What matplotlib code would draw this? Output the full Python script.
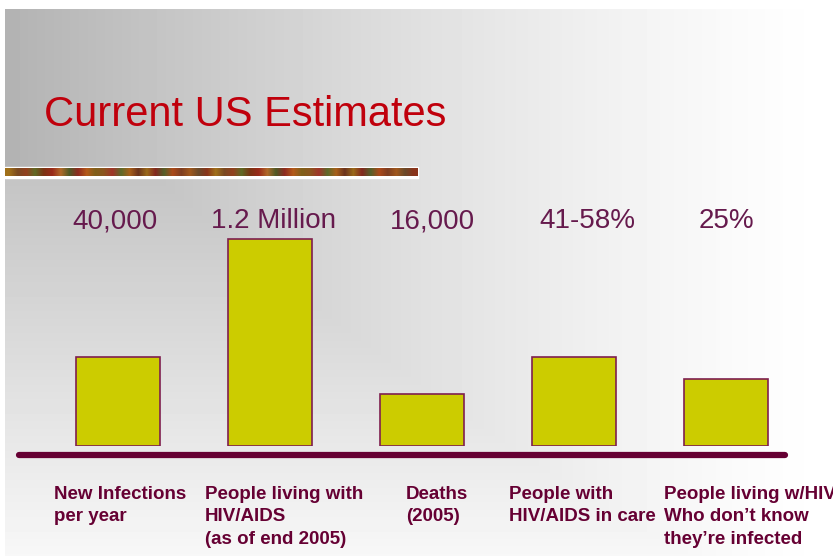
import numpy as np
import matplotlib
matplotlib.use("Agg")
import matplotlib.pyplot as plt
from matplotlib import transforms

plt.rcParams['font.family'] = ['Liberation Sans', 'DejaVu Sans']

# slide content
title = "Current US Estimates"
value_labels = ["40,000", "1.2 Million", "16,000", "41-58%", "25%"]
categories = ["New Infections\nper year",
              "People living with\nHIV/AIDS\n(as of end 2005)",
              "Deaths\n(2005)",
              "People with\nHIV/AIDS in care",
              "People living w/HIV\nWho don\u2019t know\nthey\u2019re infected"]
# bar heights as drawn on the slide (illustrative, relative units)
heights = [1.0, 2.33, 0.58, 1.0, 0.75]

W, H = 833, 556
fig = plt.figure(figsize=(W / 100, H / 100), dpi=100)

# background layer in pixel coordinates
bg = fig.add_axes([0, 0, 1, 1])
bg.set_xlim(0, W)
bg.set_ylim(H, 0)
bg.axis('off')

xs = np.arange(W)[None, :] + 0.5
ys = np.arange(H)[:, None] + 0.5
t = np.clip((xs - 5) / (W - 5), 0, 1)
horiz = 0.70 + 0.30 * (1 - (1 - t) ** 1.3)
vert = 0.77 + 0.20 * np.clip((ys - 180) / (H - 180), 0, 1)
img = np.where(ys < 178, horiz + 0 * ys, np.maximum(horiz, vert))
img[:, :5] = 1.0
img[:9, :] = 1.0
bg.imshow(img, cmap='gray', vmin=0, vmax=1, extent=(0, W, H, 0),
          aspect='auto', interpolation='bilinear', zorder=0)

# decorative strip under the title
strip_cols = ["#a0701a", "#7a4a22", "#93401f", "#5f6a25", "#7b3413", "#9a2a1a",
              "#b06a2a", "#4f5a26", "#8e2a20", "#b45a1a", "#80601a", "#8c561f",
              "#a0352a", "#5e6a2a", "#a8601a", "#6b331d", "#9a6a1a", "#83281f",
              "#55602a", "#ac4a1a", "#7e3e22", "#a0581d", "#6a4a2a", "#8a341b"]
strip = np.array([matplotlib.colors.to_rgb(c) for c in strip_cols * 2])[None, :, :]
bg.fill_between([5, 418], 166.5, 178, color='white', zorder=1)
bg.imshow(strip, extent=(5, 418, 176.5, 168.5), aspect='auto',
          interpolation='bilinear', zorder=2)

bg.text(44, 126, title, fontsize=30, color='#c0000c', va='baseline', ha='left')

# baseline under the bars
bg.plot([19, 785], [455, 455], color='#660033', lw=4.5,
        solid_capstyle='round', zorder=3)

# bars
ax = fig.add_axes([42 / W, 110 / H, 760 / W, 267 / H])
ax.patch.set_alpha(0)
ax.set_xlim(-0.5, 4.5)
ax.set_ylim(0, 3)
ax.axis('off')
x = np.arange(len(heights))
bw = 0.553
ax.bar(x, heights, width=bw, color='#cccc00', edgecolor='#7f1f4f', linewidth=1.2)

trans = transforms.blended_transform_factory(ax.transData, bg.transData)
val_dx = [-0.02, 0.02, 0.07, 0.085, 0.0]
for i, lab in enumerate(value_labels):
    ax.text(x[i] + val_dx[i], 228, lab, transform=trans, ha='center', va='baseline',
            fontsize=20, color='#661a4d', clip_on=False)

lab_dx = [-22, -23, 26, -23, -20]
for i, lab in enumerate(categories):
    ax.text(x[i] - bw / 2 + lab_dx[i] / 152, 486, lab, transform=trans,
            ha='left', va='top', fontsize=13.5, fontweight='bold',
            color='#660033', linespacing=1.42, clip_on=False)

fig.savefig('out.png', dpi=100)
